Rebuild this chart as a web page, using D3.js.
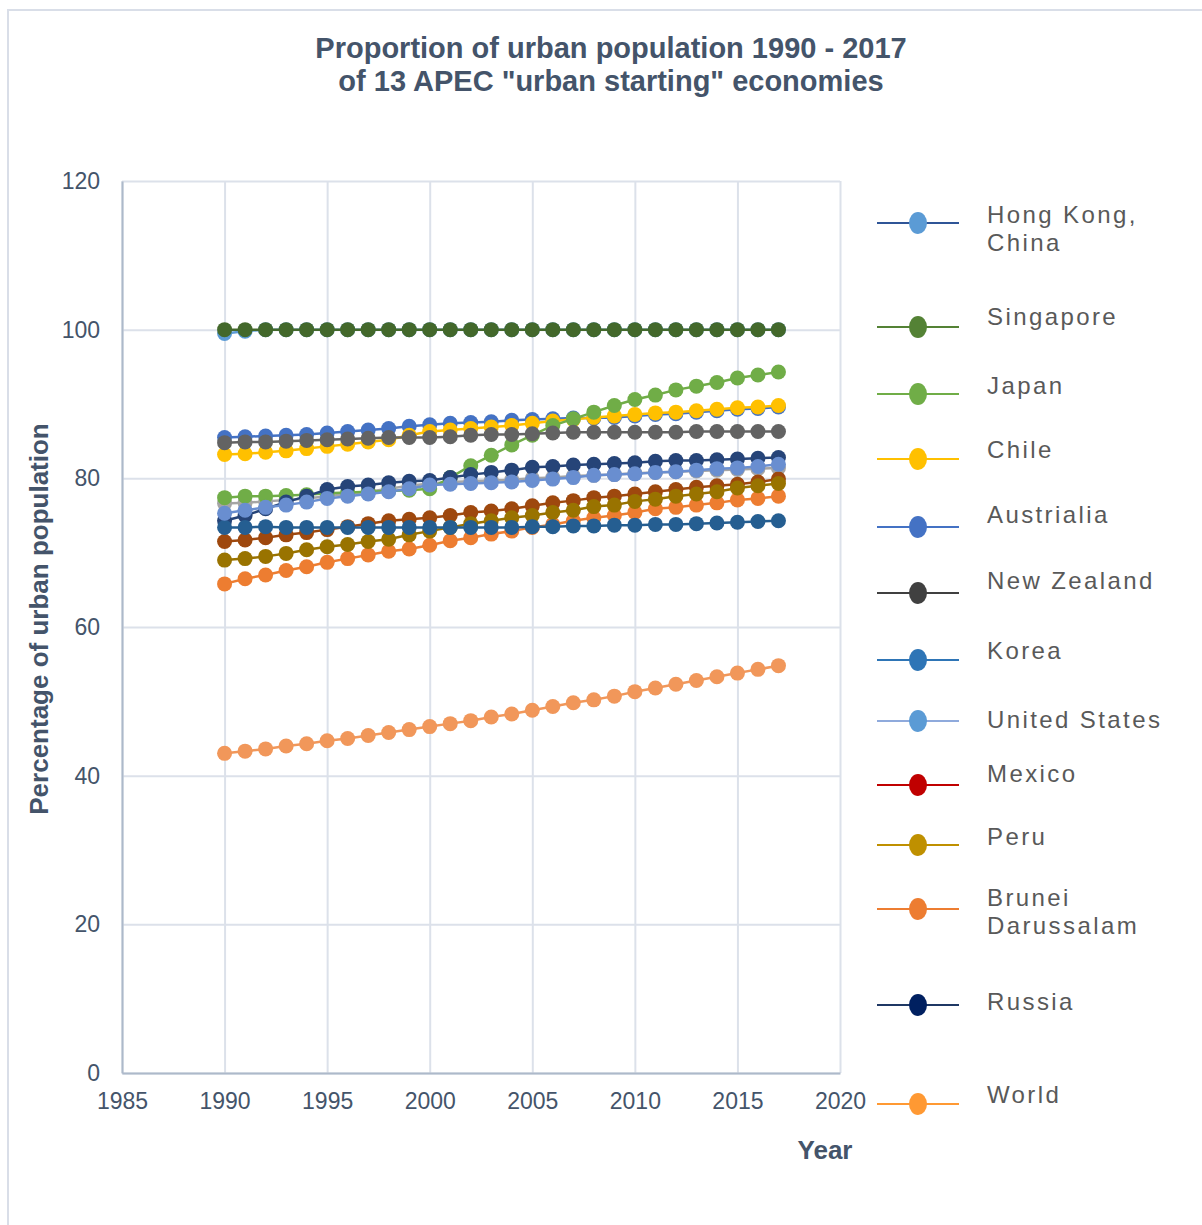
<!DOCTYPE html>
<html>
<head>
<meta charset="utf-8">
<script src="https://cdn.jsdelivr.net/npm/d3@7"></script>
<style>
    body { margin: 0; background: #fff; }
    text { font-family: "Liberation Sans", Arial, sans-serif; }
</style>
</head>
<body>
<div id="chart"></div>
<script>
// data
var years = [1990, 1991, 1992, 1993, 1994, 1995, 1996, 1997, 1998, 1999,
    2000, 2001, 2002, 2003, 2004, 2005, 2006, 2007, 2008, 2009,
    2010, 2011, 2012, 2013, 2014, 2015, 2016, 2017];

var australia = [85.5, 85.6, 85.7, 85.8, 85.9, 86.1, 86.3, 86.5, 86.7, 87.0, 87.2, 87.4, 87.5, 87.6,
    87.8, 87.9, 88.0, 88.1, 88.1, 88.2, 88.4, 88.6, 88.7, 88.9, 89.1, 89.3, 89.4, 89.6];
var brunei = [65.8, 66.5, 67.0, 67.6, 68.1, 68.7, 69.2, 69.7, 70.2, 70.5, 71.0, 71.6, 72.0, 72.5,
    72.9, 73.4, 73.8, 74.3, 74.7, 75.0, 75.4, 75.9, 76.1, 76.4, 76.7, 77.1, 77.3, 77.6];
var canada = [76.6, 76.7, 76.9, 77.1, 77.3, 77.6, 77.9, 78.2, 78.6, 79.0, 79.3, 79.5, 79.6, 79.7,
    79.8, 80.0, 80.1, 80.3, 80.4, 80.5, 80.7, 80.8, 80.9, 81.0, 81.1, 81.2, 81.3, 81.4];
var chile = [83.2, 83.3, 83.5, 83.7, 84.0, 84.3, 84.6, 84.9, 85.2, 85.8, 86.3, 86.5, 86.7, 86.9,
    87.1, 87.4, 87.7, 87.9, 88.2, 88.4, 88.6, 88.8, 88.9, 89.1, 89.3, 89.5, 89.6, 89.8];
var hongKong = [99.5, 99.8, 100, 100, 100, 100, 100, 100, 100, 100, 100, 100, 100, 100,
    100, 100, 100, 100, 100, 100, 100, 100, 100, 100, 100, 100, 100, 100];
var japan = [77.4, 77.6, 77.6, 77.7, 77.8, 78.0, 78.1, 78.2, 78.3, 78.4, 78.6, 80.1, 81.7, 83.1,
    84.5, 85.8, 87.1, 88.0, 88.9, 89.8, 90.6, 91.2, 91.9, 92.4, 92.9, 93.5, 93.9, 94.3];
var korea = [74.3, 75.0, 75.9, 76.8, 77.6, 78.5, 78.9, 79.1, 79.4, 79.6, 79.7, 80.1, 80.5, 80.8,
    81.1, 81.5, 81.6, 81.8, 81.9, 82.0, 82.1, 82.3, 82.4, 82.4, 82.5, 82.6, 82.7, 82.8];
var mexico = [71.5, 71.7, 72.0, 72.4, 72.7, 73.1, 73.5, 73.9, 74.3, 74.5, 74.7, 75.0, 75.4, 75.6,
    75.9, 76.3, 76.7, 77.0, 77.4, 77.6, 77.9, 78.2, 78.5, 78.8, 79.0, 79.2, 79.5, 79.9];
var newZealand = [84.8, 84.9, 84.9, 85.0, 85.1, 85.2, 85.3, 85.4, 85.5, 85.5, 85.5, 85.6, 85.8, 85.9,
    85.9, 86.0, 86.1, 86.2, 86.2, 86.2, 86.2, 86.2, 86.2, 86.3, 86.3, 86.3, 86.3, 86.3];
var peru = [69.0, 69.2, 69.5, 69.9, 70.4, 70.8, 71.1, 71.5, 71.8, 72.4, 72.9, 73.4, 73.9, 74.3,
    74.7, 75.0, 75.4, 75.7, 76.2, 76.4, 76.9, 77.2, 77.6, 77.9, 78.2, 78.7, 79.0, 79.3];
var russia = [73.4, 73.4, 73.5, 73.4, 73.4, 73.4, 73.4, 73.4, 73.4, 73.4, 73.4, 73.4, 73.4, 73.4,
    73.4, 73.5, 73.5, 73.6, 73.6, 73.7, 73.7, 73.8, 73.8, 73.9, 74.0, 74.1, 74.2, 74.3];
var singapore = [100, 100, 100, 100, 100, 100, 100, 100, 100, 100, 100, 100, 100, 100,
    100, 100, 100, 100, 100, 100, 100, 100, 100, 100, 100, 100, 100, 100];
var unitedStates = [75.3, 75.7, 76.1, 76.4, 76.8, 77.3, 77.6, 77.9, 78.2, 78.6, 79.1, 79.2, 79.3, 79.4,
    79.5, 79.7, 79.9, 80.1, 80.4, 80.5, 80.6, 80.8, 80.9, 81.1, 81.3, 81.4, 81.6, 81.9];
var world = [43.0, 43.3, 43.6, 44.0, 44.3, 44.7, 45.0, 45.4, 45.8, 46.2, 46.6, 47.0, 47.4, 47.9,
    48.3, 48.8, 49.3, 49.8, 50.2, 50.7, 51.3, 51.8, 52.3, 52.8, 53.3, 53.8, 54.3, 54.8];

// plotted in this order (later ones on top)
var seriesNames = ["Australia", "Brunei Darussalam", "Canada", "Chile", "Hong Kong, China", "Japan",
    "Korea", "Mexico", "New Zealand", "Peru", "Russia", "Singapore", "United States", "World"];
var seriesValues = [australia, brunei, canada, chile, hongKong, japan,
    korea, mexico, newZealand, peru, russia, singapore, unitedStates, world];
var seriesColors = ["#4472C4", "#ED7D31", "#A5A5A5", "#FFC000", "#5B9BD5", "#70AD47",
    "#264478", "#9E480E", "#636363", "#997300", "#255E91", "#43682B", "#698ED0", "#F1975A"];

// legend as it is printed beside the chart
var legendLabels = [["Hong Kong,", "China"], ["Singapore"], ["Japan"], ["Chile"], ["Austrialia"],
    ["New Zealand"], ["Korea"], ["United States"], ["Mexico"], ["Peru"], ["Brunei", "Darussalam"],
    ["Russia"], ["World"]];
var legendLineColors = ["#2F5597", "#548235", "#70AD47", "#FFC000", "#4472C4", "#404040", "#2E75B6",
    "#8FAADC", "#C00000", "#BF9000", "#ED7D31", "#1F3864", "#FF9933"];
var legendMarkerColors = ["#5B9BD5", "#548235", "#70AD47", "#FFC000", "#4472C4", "#404040", "#2E75B6",
    "#5B9BD5", "#C00000", "#BF9000", "#ED7D31", "#002060", "#FF9933"];

var yTicks = [0, 20, 40, 60, 80, 100, 120];
var xTicks = [1985, 1990, 1995, 2000, 2005, 2010, 2015, 2020];

// layout
var width = 1202;
var height = 1225;
var plot = { left: 122, right: 840, top: 181, bottom: 1073 };
var legendMarkerY = [223, 327, 394, 459, 527, 593, 660, 721, 785, 845, 909, 1005, 1104];
var legendTextY = [223, 325, 394, 458, 523, 589, 659, 728, 782, 845, 906, 1010, 1103];
var labelColor = "#44546A";

var svg = d3.select("#chart")
    .append("svg")
    .attr("width", width)
    .attr("height", height);

svg.append("rect")
    .attr("x", 8)
    .attr("y", 10)
    .attr("width", 1260)
    .attr("height", 1260)
    .attr("fill", "none")
    .attr("stroke", "#D9DEE8")
    .attr("stroke-width", 2);

var x = d3.scaleLinear().domain([1985, 2020]).range([plot.left, plot.right]);
var y = d3.scaleLinear().domain([0, 120]).range([plot.bottom, plot.top]);

// gridlines
svg.append("g")
    .attr("class", "grid")
    .attr("transform", "translate(" + plot.left + ",0)")
    .call(d3.axisLeft(y).tickValues(yTicks).tickSize(-(plot.right - plot.left)).tickFormat(""))
    .call(function(g) { g.select(".domain").remove(); })
    .selectAll("line")
    .attr("stroke", "#DCE1EA")
    .attr("stroke-width", 2);

svg.append("g")
    .attr("class", "grid")
    .attr("transform", "translate(0," + plot.bottom + ")")
    .call(d3.axisBottom(x).tickValues(xTicks).tickSize(-(plot.bottom - plot.top)).tickFormat(""))
    .call(function(g) { g.select(".domain").remove(); })
    .selectAll("line")
    .attr("stroke", "#DCE1EA")
    .attr("stroke-width", 2);

// axes
var yAxis = svg.append("g")
    .attr("transform", "translate(" + plot.left + ",0)")
    .call(d3.axisLeft(y).tickValues(yTicks).tickSize(0).tickPadding(22));

var xAxis = svg.append("g")
    .attr("transform", "translate(0," + plot.bottom + ")")
    .call(d3.axisBottom(x).tickValues(xTicks).tickSize(0).tickPadding(20).tickFormat(d3.format("d")));

[yAxis, xAxis].forEach(function(a) {
    a.select(".domain").attr("stroke", "#ADB9CA").attr("stroke-width", 2);
    a.selectAll("text")
        .attr("fill", labelColor)
        .style("font-size", "23px")
        .style("font-family", "'Liberation Sans', Arial, sans-serif");
});

// series
var line = d3.line()
    .x(function(d, i) { return x(years[i]); })
    .y(function(d) { return y(d); });

seriesValues.forEach(function(values, s) {
    var g = svg.append("g").attr("class", "series");
    g.append("path")
        .datum(values)
        .attr("d", line)
        .attr("fill", "none")
        .attr("stroke", seriesColors[s])
        .attr("stroke-width", 2.5);
    g.selectAll("circle")
        .data(values)
        .enter()
        .append("circle")
        .attr("cx", function(d, i) { return x(years[i]); })
        .attr("cy", function(d) { return y(d); })
        .attr("r", 7.5)
        .attr("fill", seriesColors[s]);
});

// titles
var title = svg.append("text")
    .attr("x", 611)
    .attr("y", 58)
    .attr("text-anchor", "middle")
    .attr("fill", labelColor)
    .style("font-size", "29px")
    .style("font-weight", "bold");
title.append("tspan").attr("x", 611).text("Proportion of urban population 1990 - 2017");
title.append("tspan").attr("x", 611).attr("dy", 33).text("of 13 APEC \"urban starting\" economies");

svg.append("text")
    .attr("transform", "translate(48,619)rotate(-90)")
    .attr("text-anchor", "middle")
    .attr("fill", labelColor)
    .style("font-size", "26px")
    .style("font-weight", "bold")
    .text("Percentage of urban population");

svg.append("text")
    .attr("x", 825)
    .attr("y", 1159)
    .attr("text-anchor", "middle")
    .attr("fill", labelColor)
    .style("font-size", "26px")
    .style("font-weight", "bold")
    .text("Year");

// legend
var legend = svg.append("g").attr("class", "legend");

legendLabels.forEach(function(lines, i) {
    var item = legend.append("g");
    item.append("line")
        .attr("x1", 877)
        .attr("x2", 959)
        .attr("y1", legendMarkerY[i])
        .attr("y2", legendMarkerY[i])
        .attr("stroke", legendLineColors[i])
        .attr("stroke-width", 2);
    item.append("ellipse")
        .attr("cx", 918)
        .attr("cy", legendMarkerY[i])
        .attr("rx", 9)
        .attr("ry", 11)
        .attr("fill", legendMarkerColors[i]);
    var t = item.append("text")
        .attr("x", 987)
        .attr("y", legendTextY[i])
        .attr("fill", "#595959")
        .style("font-size", "24px")
        .style("letter-spacing", "2.4px");
    lines.forEach(function(l, j) {
        t.append("tspan")
            .attr("x", 987)
            .attr("dy", j === 0 ? 0 : 28)
            .text(l);
    });
});
</script>
</body>
</html>
